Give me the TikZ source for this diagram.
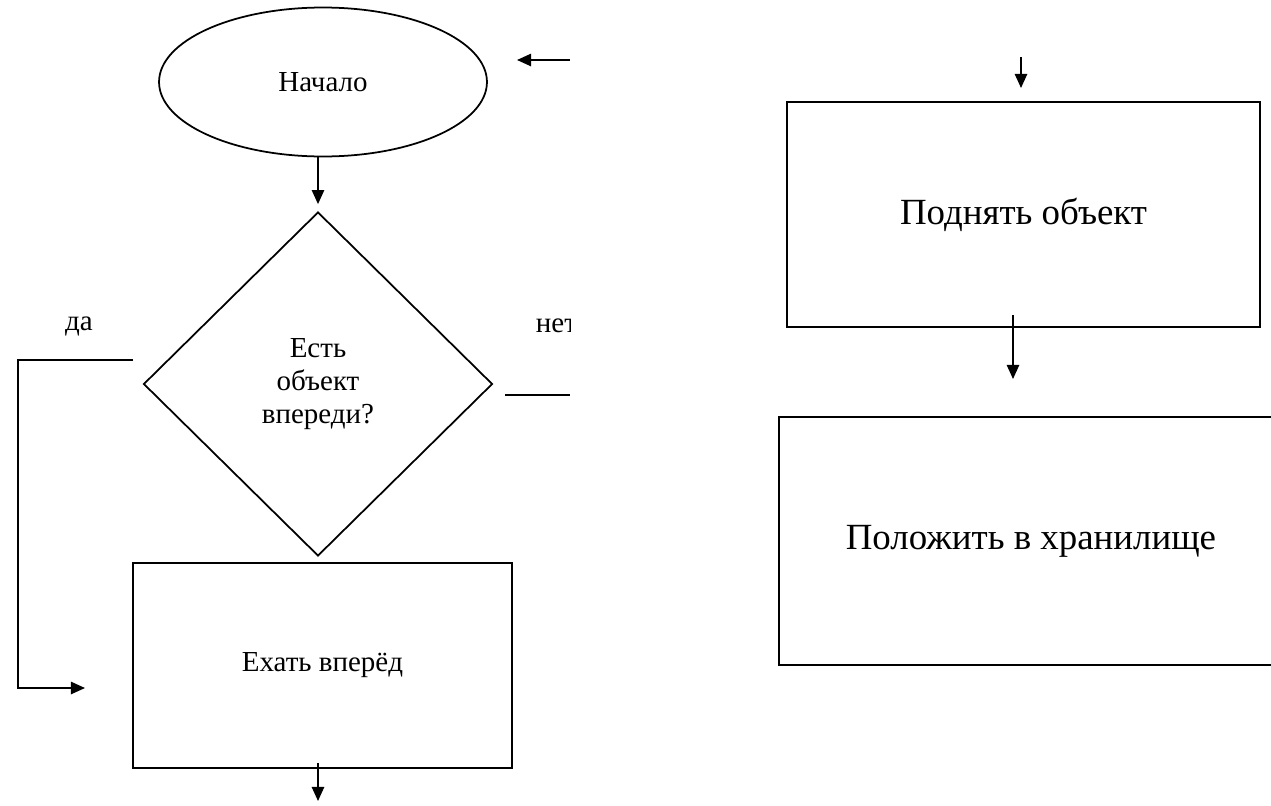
\documentclass[tikz,border=0pt]{standalone}
\usepackage{fontspec}
\setmainfont{Liberation Serif}
\usetikzlibrary{shapes.geometric,arrows.meta}
\tikzset{
  block/.style={draw,rectangle,inner sep=0pt},
  bigtext/.style={font=\fontsize{21}{25}\selectfont}
}
\begin{document}
\begin{tikzpicture}[x=0.02cm,y=-0.02cm,line width=1pt,>={Triangle[length=8pt,width=7pt]},font=\fontsize{16.5}{19}\selectfont]
	\useasboundingbox (0,0) rectangle (1271,805);
	\clip (0,0) rectangle (1271,805);
	% left part
	\node[draw,ellipse,inner sep=0pt,minimum width=6.56cm,minimum height=2.98cm] (start) at (323,82) {Начало};
	\node[draw,diamond,inner sep=0pt,align=center,minimum width=6.98cm,minimum height=6.88cm] (check) at (318,384) {Есть\\объект\\впереди?};
	\node[block,minimum width=7.58cm,minimum height=4.1cm] (drive) at (322.5,665.5) {Ехать вперёд};
	\node (yes) at (79,326) {да};
	\begin{scope}
		\clip (0,0) rectangle (570,805);
		\node[anchor=west,inner sep=0pt] (no) at (535,326) {нет};
	\end{scope}
	\coordinate (yes1) at (133,360);
	\coordinate (yes2) at (18,360);
	\coordinate (yes3) at (85,688);
	\coordinate (no1) at (505,395);
	\coordinate (no2) at (570,395);
	\coordinate (back1) at (570,60);
	\coordinate (back2) at (517,60);
	\coordinate (drive1) at (318,763);
	\coordinate (drive2) at (318,801);
	\draw[->,shorten >=4pt] (start.south -| check.north) -- (check.north);
	\draw[->] (yes1) -- (yes2) |- (yes3);
	\draw (no1) -- (no2);
	\draw[->] (back1) -- (back2);
	\draw[->] (drive1) -- (drive2);
	% right part
	\node[block,bigtext,minimum width=9.46cm,minimum height=4.5cm] (lift) at (1023.5,214.5) {Поднять объект};
	\node[block,bigtext,minimum width=10.08cm,minimum height=4.96cm] (store) at (1031,541) {Положить в хранилище};
	\coordinate (lift1) at (1021,57);
	\coordinate (lift2) at (1021,88);
	\coordinate (store1) at (1013,315);
	\coordinate (store2) at (1013,379);
	\draw[->] (lift1) -- (lift2);
	\draw[->] (store1) -- (store2);
\end{tikzpicture}
\end{document}
